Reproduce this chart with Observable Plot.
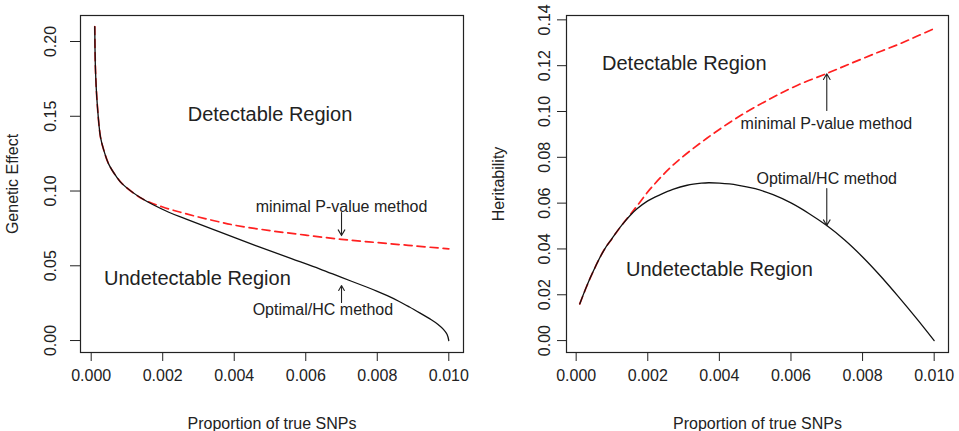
<!DOCTYPE html>
<html>
<head>
<meta charset="utf-8">
<script src="https://cdn.jsdelivr.net/npm/d3@7"></script>
<script src="https://cdn.jsdelivr.net/npm/@observablehq/plot@0.6"></script>
<style>
  body { margin: 0; background: #fff; }
  #wrap { display: flex; width: 959px; height: 431px; }
  #wrap svg { display: block; }
</style>
</head>
<body>
<div id="wrap"></div>
<script>
// ---------- data ----------
const xTicks = [0, 0.002, 0.004, 0.006, 0.008, 0.010];
const leftYTicks = [0, 0.05, 0.10, 0.15, 0.20];
const rightYTicks = [0, 0.02, 0.04, 0.06, 0.08, 0.10, 0.12, 0.14];
const xLabel = "Proportion of true SNPs";
const leftYLabel = "Genetic Effect";
const rightYLabel = "Heritability";

// Left panel: genetic effect, Optimal/HC method (solid black)
const leftOptX = [0.0001, 0.00012, 0.00017, 0.00026, 0.00035, 0.00049, 0.0007, 0.00087, 0.00143, 0.00217, 0.00264, 0.0035, 0.0046, 0.0056, 0.0064, 0.0070, 0.0077, 0.0080, 0.00828, 0.0086, 0.0089, 0.0092, 0.0095, 0.0097, 0.00985, 0.00995, 0.01];
const leftOptY = [0.210, 0.181, 0.158, 0.136, 0.1275, 0.118, 0.1098, 0.1048, 0.0948, 0.0858, 0.0814, 0.0735, 0.0635, 0.0548, 0.0478, 0.0422, 0.0358, 0.0329, 0.0300, 0.0263, 0.0224, 0.0183, 0.0141, 0.0108, 0.0075, 0.0042, 0.0];
// Left panel: minimal P-value method (red dashed)
const leftMinPX = [0.0001, 0.00012, 0.00017, 0.00026, 0.00035, 0.00049, 0.0007, 0.00087, 0.00143, 0.002, 0.0025, 0.003, 0.0035, 0.004, 0.005, 0.006, 0.007, 0.008, 0.009, 0.01];
const leftMinPY = [0.210, 0.181, 0.158, 0.136, 0.1275, 0.118, 0.1098, 0.1048, 0.0948, 0.0893, 0.0858, 0.0826, 0.0798, 0.0772, 0.0735, 0.0705, 0.0677, 0.0655, 0.0634, 0.0613];

// Right panel: heritability, Optimal/HC method (solid black)
const rightOptX = [0.0001, 0.0004, 0.00077, 0.001, 0.00123, 0.0015, 0.0017, 0.002, 0.00235, 0.0027, 0.0031, 0.0035, 0.0037, 0.004, 0.0045, 0.005, 0.0055, 0.006, 0.0065, 0.007, 0.0075, 0.008, 0.0085, 0.009, 0.0095, 0.01];
const rightOptY = [0.016, 0.0276, 0.0393, 0.0445, 0.0495, 0.0545, 0.0575, 0.061, 0.0637, 0.0660, 0.0678, 0.0687, 0.0689, 0.0687, 0.0679, 0.0663, 0.0637, 0.0601, 0.0555, 0.0502, 0.0439, 0.0365, 0.0282, 0.0192, 0.0098, 0.0];
// Right panel: minimal P-value method (red dashed)
const rightMinPX = [0.0001, 0.0004, 0.00077, 0.001, 0.00123, 0.0015, 0.0017, 0.00207, 0.00272, 0.00365, 0.00458, 0.0055, 0.0062, 0.007, 0.0076, 0.0083, 0.009, 0.0095, 0.01];
const rightMinPY = [0.016, 0.0276, 0.0393, 0.0445, 0.0495, 0.0548, 0.0588, 0.0662, 0.0768, 0.0883, 0.0981, 0.1062, 0.1116, 0.1166, 0.1205, 0.1250, 0.1293, 0.1327, 0.1362];

// Annotation texts and their data positions
const regionLabels = ["Detectable Region", "Undetectable Region"];
const methodLabels = ["minimal P-value method", "Optimal/HC method"];
const leftRegionX = [0.0050, 0.00297];
const leftRegionY = [0.1512, 0.0415];
const leftMethodX = [0.0070, 0.00648];
const leftMethodY = [0.0896, 0.0207];
const rightRegionX = [0.00302, 0.0040];
const rightRegionY = [0.1209, 0.031];
const rightMethodX = [0.00699, 0.0070];
const rightMethodY = [0.0947, 0.0707];
// Arrows: start (x1, y1) and end (x2, y2) per arrow
const leftArrowX1 = [0.007, 0.007];
const leftArrowY1 = [0.0856, 0.0254];
const leftArrowX2 = [0.007, 0.007];
const leftArrowY2 = [0.0702, 0.0368];
const rightArrowX1 = [0.007, 0.007];
const rightArrowY1 = [0.1004, 0.0664];
const rightArrowX2 = [0.007, 0.007];
const rightArrowY2 = [0.1165, 0.0502];

// ---------- drawing ----------
const FONT = "'Liberation Sans', Arial, Helvetica, sans-serif";
const INK = "#222";

function zipXY(xs, ys) { return xs.map((x, i) => ({x, y: ys[i]})); }

function panel(cfg) {
  const opt = zipXY(cfg.optX, cfg.optY);
  const minp = zipXY(cfg.minX, cfg.minY);
  const regions = cfg.regionText.map((t, i) => ({t, x: cfg.regionX[i], y: cfg.regionY[i]}));
  const methods = cfg.methodText.map((t, i) => ({t, x: cfg.methodX[i], y: cfg.methodY[i]}));
  const arrows = cfg.ax1.map((d, i) => ({x1: cfg.ax1[i], y1: cfg.ay1[i], x2: cfg.ax2[i], y2: cfg.ay2[i]}));
  return Plot.plot({
    width: cfg.width,
    height: 431,
    marginLeft: cfg.marginLeft,
    marginRight: cfg.marginRight,
    marginTop: 15,
    marginBottom: 79,
    style: {fontFamily: FONT, fontSize: "16px", color: INK, background: "#fff"},
    x: {domain: cfg.xDomain},
    y: {domain: cfg.yDomain},
    marks: [
      Plot.frame({stroke: INK, strokeWidth: 1.2}),
      Plot.axisX({
        ticks: xTicks, tickFormat: d3.format(".3f"), tickSize: 9, tickPadding: 8,
        fontSize: 16, stroke: INK, fill: INK,
        label: xLabel, labelAnchor: "center", labelOffset: 76, labelArrow: "none"
      }),
      Plot.axisY({
        ticks: cfg.yTicks, tickFormat: d3.format(".2f"), tickSize: cfg.yTickSize, tickPadding: cfg.yTickPadding, tickRotate: -90,
        fontSize: 16, stroke: INK, fill: INK,
        label: cfg.yLabel, labelAnchor: "center", labelOffset: 74, labelArrow: "none"
      }),
      Plot.line(minp, {x: "x", y: "y", stroke: "#ff2020", strokeWidth: 1.7, strokeDasharray: "8,5", curve: "catmull-rom"}),
      Plot.line(opt, {x: "x", y: "y", stroke: "#111", strokeWidth: 1.3, curve: "catmull-rom"}),
      Plot.arrow(arrows, {x1: "x1", y1: "y1", x2: "x2", y2: "y2", stroke: INK, strokeWidth: 1.1, headLength: 9, headAngle: 60}),
      Plot.text(regions, {x: "x", y: "y", text: "t", fontSize: 20, fill: INK}),
      Plot.text(methods, {x: "x", y: "y", text: "t", fontSize: 16, fill: INK})
    ]
  });
}

const wrap = document.getElementById("wrap");
wrap.append(panel({
  width: 479, marginLeft: 80, marginRight: 16,
  xDomain: [-0.000299, 0.010411], yDomain: [-0.008, 0.2174],
  yTicks: leftYTicks, yLabel: leftYLabel, yTickSize: 10, yTickPadding: 15,
  optX: leftOptX, optY: leftOptY, minX: leftMinPX, minY: leftMinPY,
  regionText: regionLabels, regionX: leftRegionX, regionY: leftRegionY,
  methodText: methodLabels, methodX: leftMethodX, methodY: leftMethodY,
  ax1: leftArrowX1, ay1: leftArrowY1, ax2: leftArrowX2, ay2: leftArrowY2
}));
wrap.append(panel({
  width: 480, marginLeft: 87, marginRight: 11,
  xDomain: [-0.00027, 0.0104], yDomain: [-0.0052, 0.1419],
  yTicks: rightYTicks, yLabel: rightYLabel, yTickSize: 9, yTickPadding: 8,
  optX: rightOptX, optY: rightOptY, minX: rightMinPX, minY: rightMinPY,
  regionText: regionLabels, regionX: rightRegionX, regionY: rightRegionY,
  methodText: methodLabels, methodX: rightMethodX, methodY: rightMethodY,
  ax1: rightArrowX1, ay1: rightArrowY1, ax2: rightArrowX2, ay2: rightArrowY2
}));
</script>
</body>
</html>
